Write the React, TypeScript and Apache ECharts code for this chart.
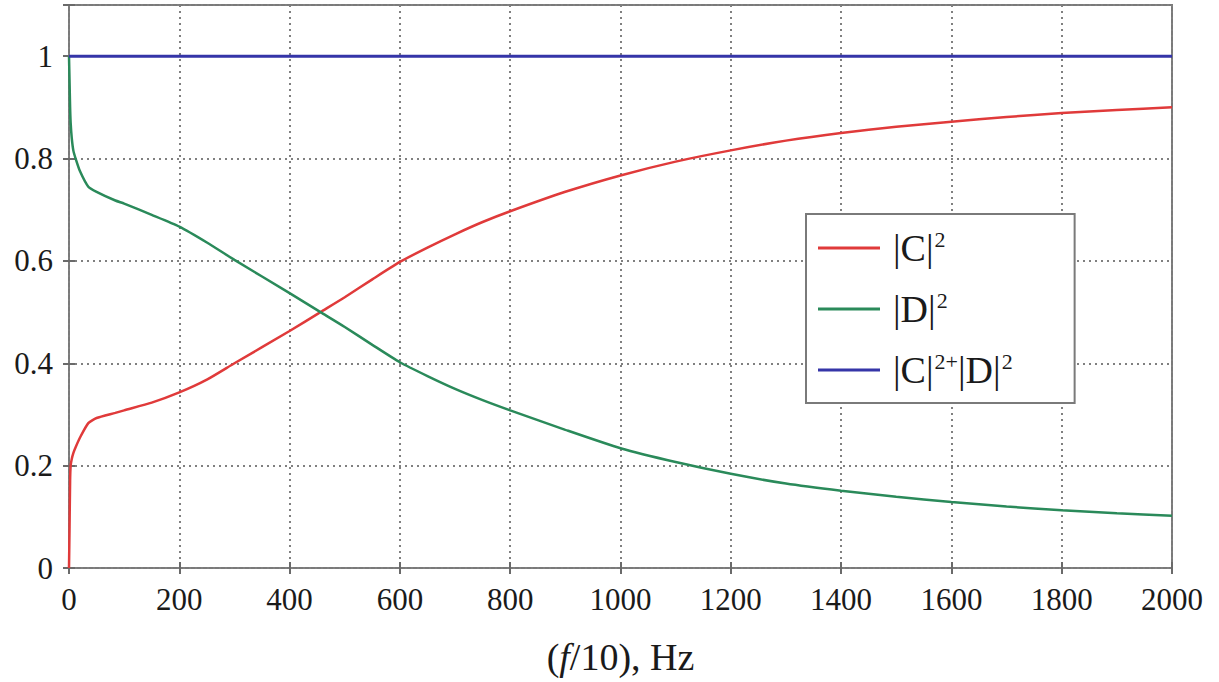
import React, { useEffect, useRef } from "react";
import * as echarts from "echarts";

// |C|^2 versus frequency (f/10, Hz)
const freqC = [0, 1, 2, 3, 5, 8, 12, 20, 35, 50, 84, 100, 150, 200, 250, 300, 400, 456, 500, 550, 600, 650, 700, 750, 800, 900, 1000, 1100, 1200, 1300, 1400, 1500, 1600, 1700, 1800, 1900, 2000];
const magC = [0, 0.08, 0.17, 0.2, 0.213, 0.225, 0.236, 0.255, 0.283, 0.293, 0.303, 0.308, 0.323, 0.343, 0.368, 0.4, 0.463, 0.5, 0.529, 0.564, 0.598, 0.626, 0.652, 0.676, 0.697, 0.735, 0.767, 0.794, 0.816, 0.835, 0.85, 0.862, 0.872, 0.881, 0.889, 0.895, 0.9];

// |D|^2 versus frequency
const freqD = [0, 1, 2, 3, 5, 8, 12, 20, 35, 50, 84, 100, 150, 200, 250, 300, 400, 456, 500, 550, 600, 650, 700, 750, 800, 900, 1000, 1100, 1200, 1300, 1400, 1500, 1600, 1700, 1800, 1900, 2000];
const magD = [1, 0.95, 0.9, 0.87, 0.84, 0.815, 0.8, 0.775, 0.745, 0.735, 0.718, 0.712, 0.69, 0.667, 0.636, 0.602, 0.537, 0.5, 0.471, 0.436, 0.402, 0.375, 0.35, 0.328, 0.308, 0.27, 0.234, 0.207, 0.184, 0.165, 0.151, 0.139, 0.129, 0.12, 0.113, 0.107, 0.102];

// |C|^2 + |D|^2
const freqSum = [0, 500, 1000, 1500, 2000];
const magSum = [1, 1, 1, 1, 1];

const seriesNames = ["|C|²", "|D|²", "|C|²+|D|²"];
const legendLabels = ["{f||C|}{s|2}", "{f||D|}{s|2}", "{f||C|}{s|2+}{t||D|}{s|2}"];
const seriesColors = ["#e03a3a", "#2a8a5a", "#3535a8"];

const xMin = 0;
const xMax = 2000;
const xStep = 200;
const yMin = 0;
const yMax = 1.1;
const yStep = 0.2;

const SERIF = '"Liberation Serif", "Times New Roman", serif';

const pairs = (xs: number[], ys: number[]) => xs.map((x, i) => [x, ys[i]]);

export default function App() {
  const ref = useRef<HTMLDivElement>(null);

  useEffect(() => {
    if (!ref.current) return;
    const chart = echarts.init(ref.current, undefined, { renderer: "svg" });

    const gridLine = { show: true, lineStyle: { color: "#808080", width: 2, type: [2, 4] as any } };
    const tick = { show: true, inside: true, length: 6, lineStyle: { color: "#6a6a6a", width: 2 } };

    chart.setOption({
      animation: false,
      backgroundColor: "#ffffff",
      grid: {
        left: 69,
        right: 47,
        top: 5,
        bottom: 114,
        show: true,
        borderColor: "#7a7a7a",
        borderWidth: 2,
        backgroundColor: "#ffffff",
      },
      legend: {
        left: 806,
        top: 214,
        orient: "vertical",
        icon: "rect",
        itemWidth: 62,
        itemHeight: 3,
        itemGap: 20,
        padding: [12, 62, 14, 12],
        backgroundColor: "#ffffff",
        borderColor: "#7a7a7a",
        borderWidth: 2,
        data: seriesNames,
        formatter: (name: string) => legendLabels[seriesNames.indexOf(name)],
        textStyle: {
          rich: {
            f: { fontFamily: SERIF, fontSize: 38, color: "#1a1a1a", lineHeight: 44, padding: [0, 0, 0, 8] },
            t: { fontFamily: SERIF, fontSize: 38, color: "#1a1a1a", lineHeight: 44 },
            s: { fontFamily: SERIF, fontSize: 22, color: "#1a1a1a", lineHeight: 44, verticalAlign: "top", padding: [2, 0, 0, 1] },
          },
        },
      },
      xAxis: [
        {
          type: "value",
          min: xMin,
          max: xMax,
          interval: xStep,
          position: "bottom",
          axisLine: { show: false },
          axisTick: tick,
          splitLine: gridLine,
          axisLabel: {
            fontFamily: SERIF,
            fontSize: 31,
            color: "#1a1a1a",
            margin: 16,
            formatter: (v: number) => String(v),
          },
          name: "{p|(}{i|f}{p|/10), Hz}",
          nameLocation: "middle",
          nameGap: 70,
          nameTextStyle: {
            rich: {
              p: { fontFamily: SERIF, fontSize: 38, color: "#1a1a1a" },
              i: { fontFamily: SERIF, fontSize: 38, fontStyle: "italic", color: "#1a1a1a" },
            },
          },
        },
        {
          type: "value",
          min: xMin,
          max: xMax,
          interval: xStep,
          position: "top",
          axisLine: { show: false },
          axisTick: tick,
          splitLine: { show: false },
          axisLabel: { show: false },
        },
      ],
      yAxis: [
        {
          type: "value",
          min: yMin,
          max: yMax,
          interval: yStep,
          position: "left",
          axisLine: { show: false },
          axisTick: tick,
          splitLine: gridLine,
          axisLabel: {
            fontFamily: SERIF,
            fontSize: 31,
            color: "#1a1a1a",
            margin: 16,
            formatter: (v: number) => (v > 1.05 ? "" : String(+v.toFixed(1))),
          },
        },
        {
          type: "value",
          min: yMin,
          max: yMax,
          interval: yStep,
          position: "right",
          axisLine: { show: false },
          axisTick: tick,
          splitLine: { show: false },
          axisLabel: { show: false },
        },
      ],
      series: [
        {
          name: seriesNames[0],
          type: "line",
          data: pairs(freqC, magC),
          symbol: "none",
          smooth: 0.2,
          lineStyle: { color: seriesColors[0], width: 2.5 },
          itemStyle: { color: seriesColors[0] },
        },
        {
          name: seriesNames[1],
          type: "line",
          data: pairs(freqD, magD),
          symbol: "none",
          smooth: 0.2,
          lineStyle: { color: seriesColors[1], width: 2.5 },
          itemStyle: { color: seriesColors[1] },
        },
        {
          name: seriesNames[2],
          type: "line",
          data: pairs(freqSum, magSum),
          symbol: "none",
          lineStyle: { color: seriesColors[2], width: 3 },
          itemStyle: { color: seriesColors[2] },
        },
      ],
    });

    return () => chart.dispose();
  }, []);

  return (
    <div
      ref={ref}
      style={{ position: "absolute", left: 0, top: 0, width: 1219, height: 682, background: "#fff" }}
    />
  );
}
